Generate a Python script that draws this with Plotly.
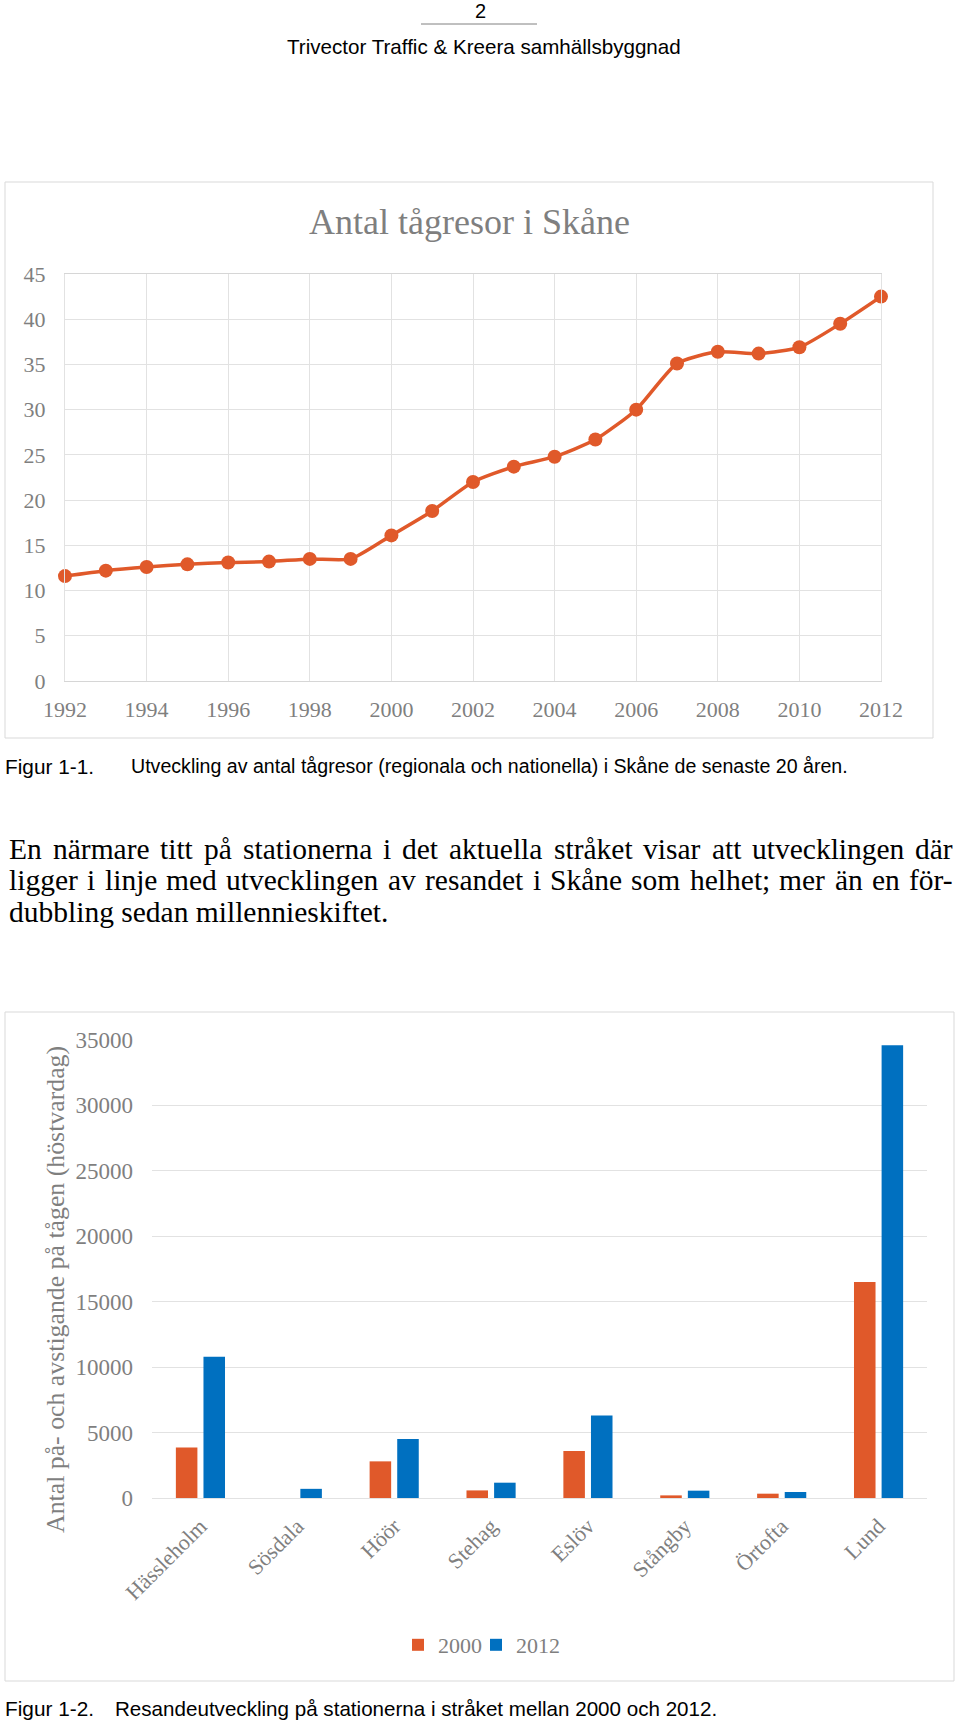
import plotly.graph_objects as go

# ---------------- data ----------------
years = list(range(1992, 2013))
trips = [11.6, 12.2, 12.6, 12.9, 13.1, 13.2, 13.5, 13.5, 16.1, 18.8, 22.0,
         23.7, 24.8, 26.7, 30.0, 35.1, 36.4, 36.2, 36.9, 39.5, 42.5]

stations = ["Hässleholm", "Sösdala", "Höör", "Stehag", "Eslöv", "Stångby", "Örtofta", "Lund"]
riders_2000 = [3850, None, 2800, 580, 3600, 200, 330, 16500]
riders_2012 = [10800, 700, 4500, 1170, 6300, 560, 460, 34600]
series_names = ["2000", "2012"]

line_title = "Antal tågresor i Skåne"
bar_ytitle = "Antal på- och avstigande på tågen (höstvardag)"
header_num = "2"
header_text = "Trivector Traffic & Kreera samhällsbyggnad"
cap1_label = "Figur 1-1."
cap1_text = "Utveckling av antal tågresor (regionala och nationella) i Skåne de senaste 20 åren."
cap2_label = "Figur 1-2."
cap2_text = "Resandeutveckling på stationerna i stråket mellan 2000 och 2012."
paragraph = [
    "En närmare titt på stationerna i det aktuella stråket visar att utvecklingen där",
    "ligger i linje med utvecklingen av resandet i Skåne som helhet; mer än en för-",
    "dubbling sedan millennieskiftet.",
]

# ---------------- style ----------------
W, H = 960, 1722
ORANGE = "#E0592A"
BLUE = "#0070C0"
GRID = "#e2e2e2"
GRAYTXT = "#7f7f7f"
SERIF = "Liberation Serif"
SANS = "Liberation Sans"

# Times / Liberation Serif advance widths (per 1000 em) used to justify the paragraph
SERIF_W = {'a': 444, 'b': 500, 'c': 444, 'd': 500, 'e': 444, 'f': 333, 'g': 500, 'h': 500,
           'i': 278, 'j': 278, 'k': 500, 'l': 278, 'm': 778, 'n': 500, 'o': 500, 'p': 500,
           'r': 333, 's': 389, 't': 278, 'u': 500, 'v': 500, 'y': 500, 'å': 444, 'ä': 444,
           'ö': 500, 'E': 611, 'S': 556, ';': 278, '-': 333, '.': 250, ' ': 250}


def px(x):
    return x / W


def py(y):
    return 1 - y / H


fig = go.Figure()

fig.add_trace(go.Scatter(
    x=years, y=trips, mode="lines+markers",
    line=dict(color=ORANGE, width=3.5, shape="spline", smoothing=0.6),
    marker=dict(color=ORANGE, size=14),
    cliponaxis=False, showlegend=False, xaxis="x", yaxis="y",
))

fig.add_trace(go.Bar(x=stations, y=riders_2000, name=series_names[0],
                     marker=dict(color=ORANGE, line=dict(width=0)),
                     xaxis="x2", yaxis="y2", legend="legend"))
fig.add_trace(go.Bar(x=stations, y=riders_2012, name=series_names[1],
                     marker=dict(color=BLUE, line=dict(width=0)),
                     xaxis="x2", yaxis="y2", legend="legend2"))

tickfont = dict(family=SERIF, size=22, color=GRAYTXT)
tickfont2 = dict(family=SERIF, size=23, color=GRAYTXT)
legfont = dict(family=SERIF, size=22, color=GRAYTXT)

fig.update_layout(
    width=W, height=H, autosize=False,
    margin=dict(l=0, r=0, t=0, b=0, pad=0, autoexpand=False),
    paper_bgcolor="white", plot_bgcolor="white",
    barmode="group", bargap=0.43, bargroupgap=0.22,
    xaxis=dict(domain=[px(65), px(881)], range=[1992, 2012], dtick=2, tick0=1992,
               showgrid=True, gridcolor=GRID, gridwidth=1, zeroline=False,
               showline=True, linecolor="#d6d6d6", linewidth=1, mirror=True,
               ticks="", tickfont=tickfont, ticklabelstandoff=9, anchor="y",
               automargin=False),
    yaxis=dict(domain=[py(681), py(274)], range=[0, 45], dtick=5,
               showgrid=True, gridcolor=GRID, gridwidth=1, zeroline=False,
               showline=True, linecolor=GRID, linewidth=1, mirror=True,
               ticks="", tickfont=tickfont, ticklabelstandoff=14, anchor="x",
               automargin=False),
    xaxis2=dict(domain=[px(152), px(927)], showgrid=False, zeroline=False,
                showline=False, ticks="", tickangle=-45, tickfont=tickfont,
                ticklabelstandoff=10, anchor="y2", automargin=False),
    yaxis2=dict(domain=[py(1498), py(1040)], range=[0, 35000], dtick=5000,
                tickformat="d",
                showgrid=True, gridcolor=GRID, gridwidth=1, zeroline=True,
                zerolinecolor=GRID, zerolinewidth=1, showline=False,
                ticks="", tickfont=tickfont2, ticklabelstandoff=18, anchor="x2",
                automargin=False),
    legend=dict(orientation="h", x=px(398), y=py(1645), xanchor="left", yanchor="middle",
                font=legfont, bgcolor="rgba(0,0,0,0)", itemwidth=30),
    legend2=dict(orientation="h", x=px(476), y=py(1645), xanchor="left", yanchor="middle",
                 font=legfont, bgcolor="rgba(0,0,0,0)", itemwidth=30),
    font=dict(family=SERIF),
)

shapes = [
    dict(type="rect", xref="paper", yref="paper", x0=px(5), x1=px(933), y0=py(738), y1=py(182),
         line=dict(color="#d9d9d9", width=1), fillcolor="rgba(0,0,0,0)", layer="below"),
    dict(type="rect", xref="paper", yref="paper", x0=px(5), x1=px(954), y0=py(1681), y1=py(1012),
         line=dict(color="#d9d9d9", width=1), fillcolor="rgba(0,0,0,0)", layer="below"),
    dict(type="line", xref="paper", yref="paper", x0=px(421), x1=px(537), y0=py(24), y1=py(24),
         line=dict(color="#808080", width=1)),
]
fig.update_layout(shapes=shapes)

ann = []


def text(t, x, y, size, family, color="black", xanchor="left", yanchor="middle", angle=0):
    ann.append(dict(text=t, x=px(x), y=py(y), xref="paper", yref="paper", showarrow=False,
                    xanchor=xanchor, yanchor=yanchor, textangle=angle, borderpad=0,
                    borderwidth=0,
                    font=dict(family=family, size=size, color=color)))


text(header_num, 480, 11, 20, SANS, xanchor="center")
text(header_text, 484, 46, 20.6, SANS, xanchor="center")
text(line_title, 469, 222, 36, SERIF, GRAYTXT, xanchor="center")
text(cap1_label, 5, 766, 20.8, SANS)
text(cap1_text, 131, 766, 19.6, SANS)

# paragraph: first two lines justified between x=9 and x=953
PARA_SIZE = 29.5
para_y = [849, 880, 912]
left, right = 9, 953
for i, ln in enumerate(paragraph):
    words = ln.split(" ")
    if i < len(paragraph) - 1:
        widths = [sum(SERIF_W.get(c, 500) for c in w) * PARA_SIZE / 1000 for w in words]
        gap = (right - left - sum(widths)) / (len(words) - 1)
        x = left
        for w, wd in zip(words, widths):
            text(w, x, para_y[i], PARA_SIZE, SERIF)
            x += wd + gap
    else:
        text(ln, left, para_y[i], PARA_SIZE, SERIF)

text(bar_ytitle, 55, 1290, 25.8, SERIF, GRAYTXT, xanchor="center", angle=-90)
text(cap2_label, 5, 1708, 20.8, SANS)
text(cap2_text, 115, 1708, 20.6, SANS)

fig.update_layout(annotations=ann)

fig.write_html("out.html", post_script="document.body.style.margin='0';",
               config={"displayModeBar": False})
